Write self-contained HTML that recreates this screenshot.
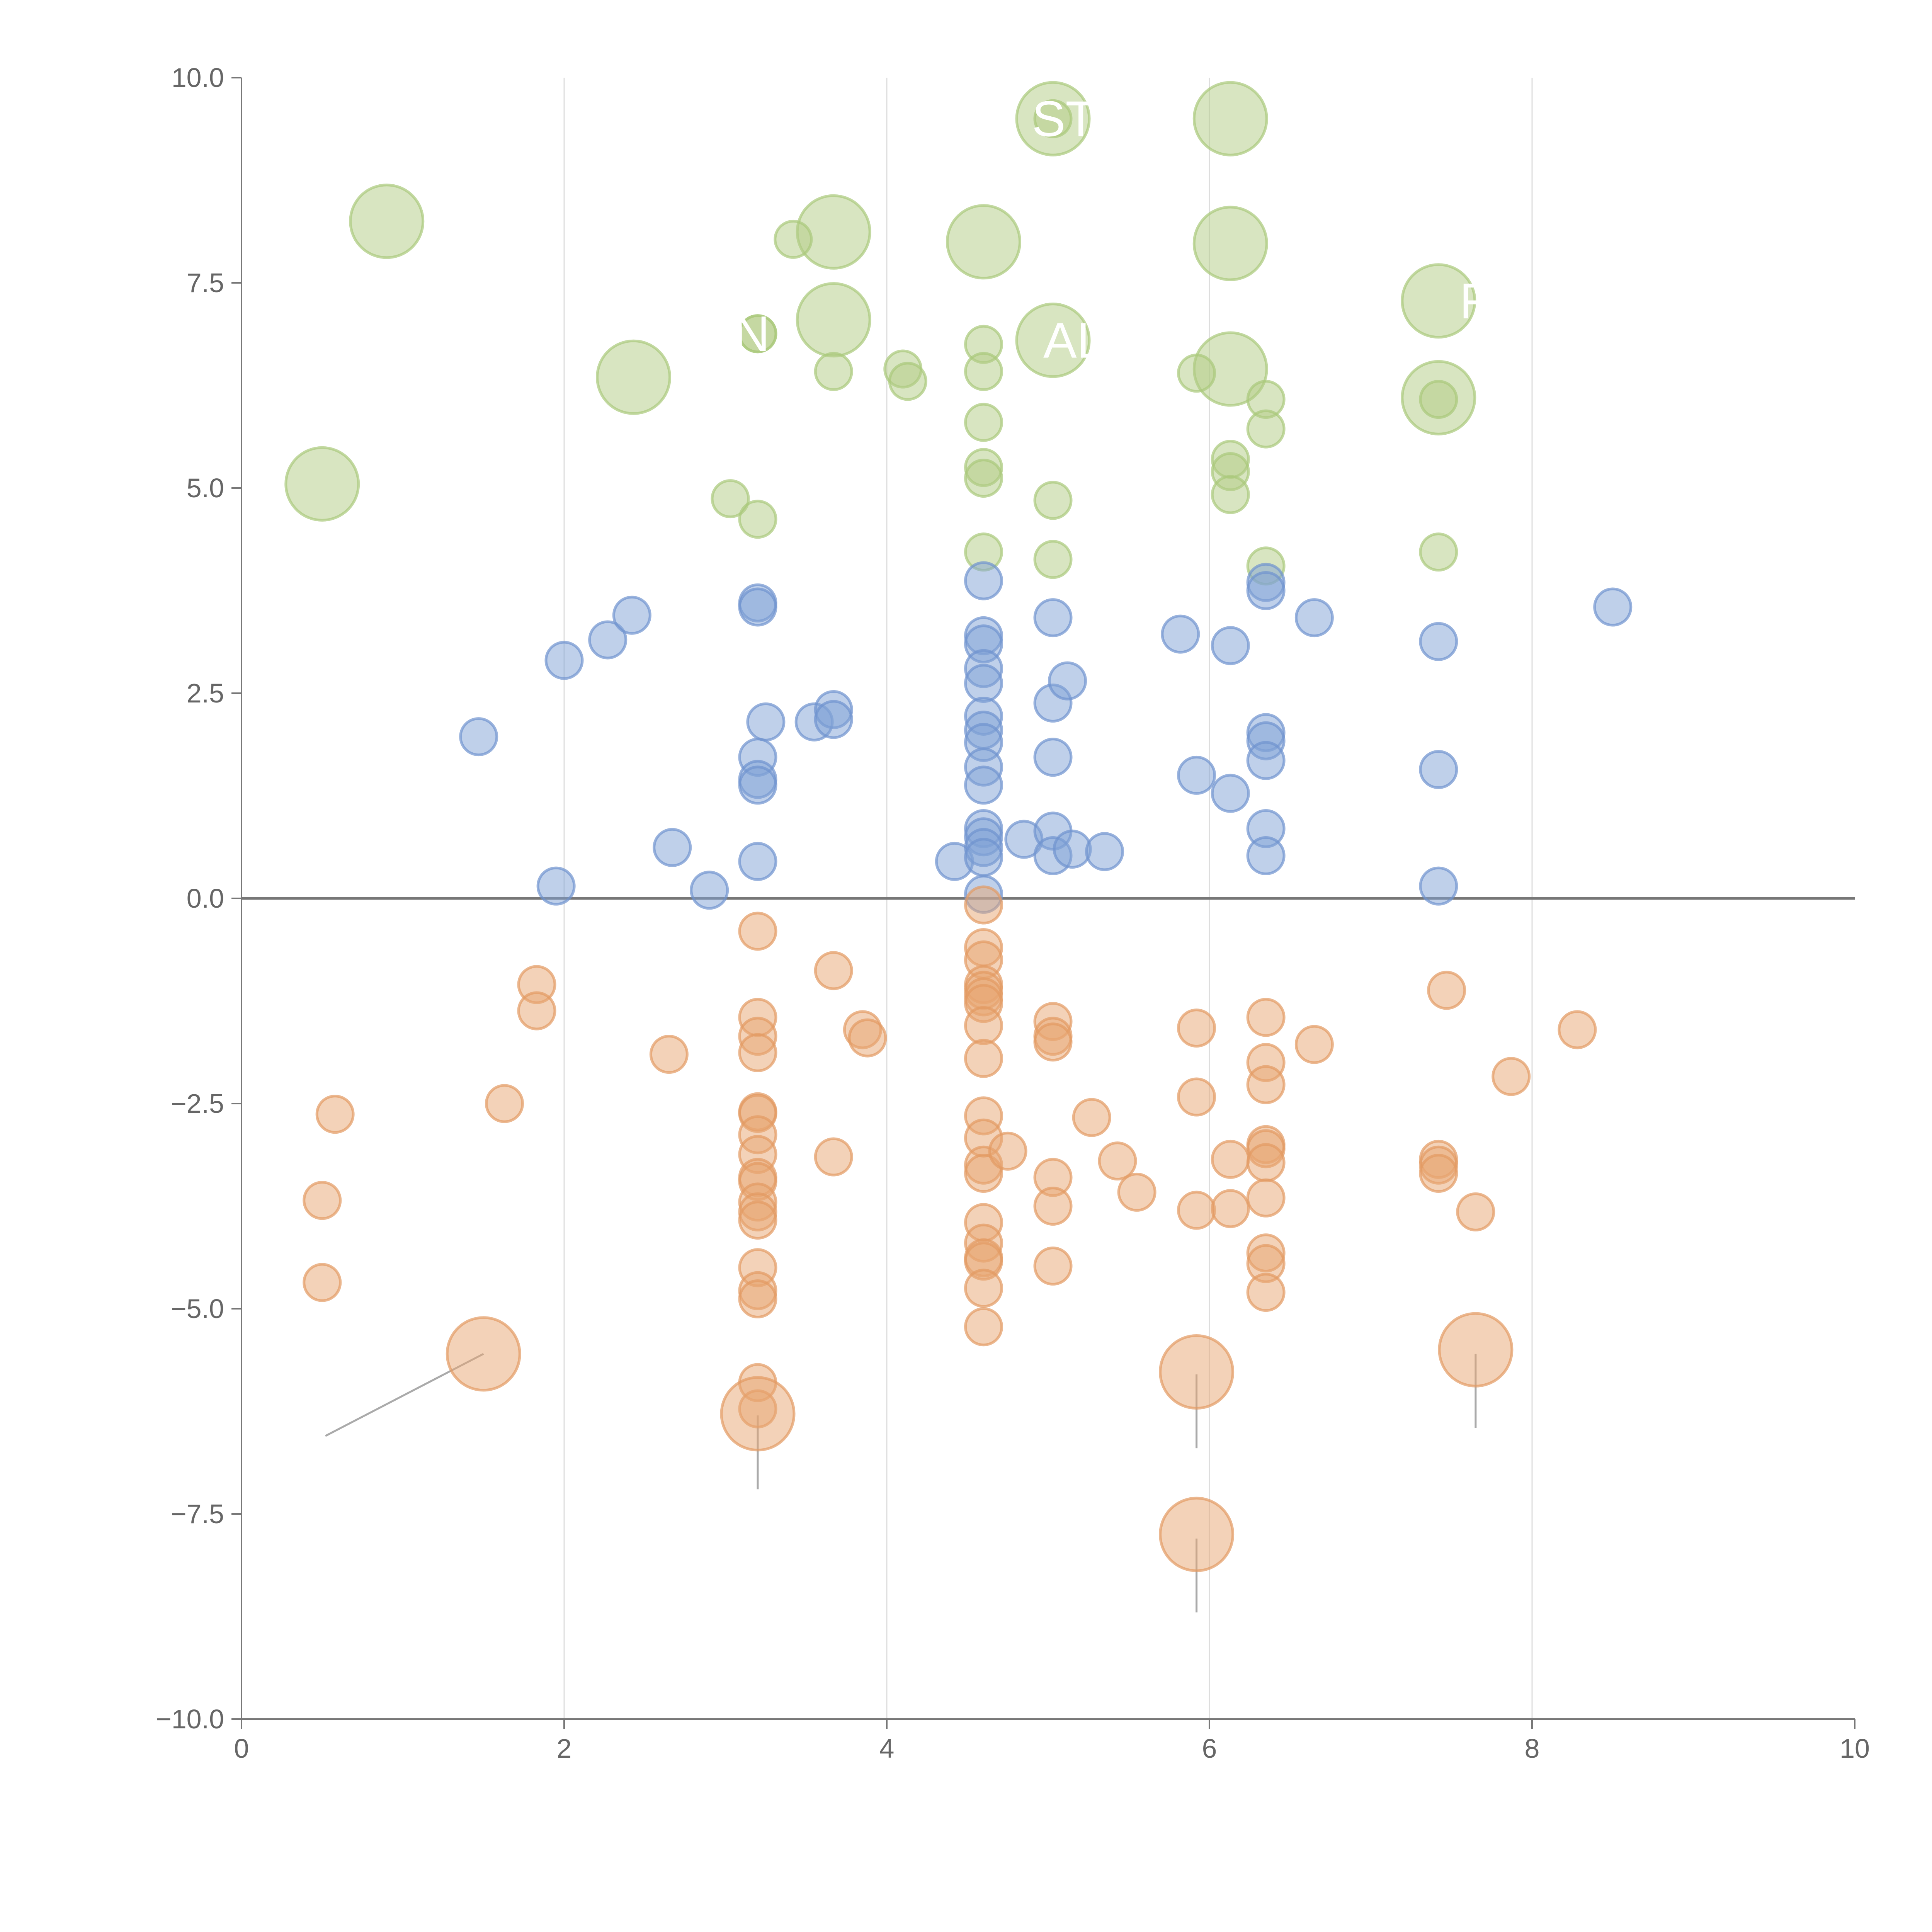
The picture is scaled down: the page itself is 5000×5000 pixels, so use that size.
<!DOCTYPE html>
<html><head><meta charset="utf-8"><style>
html,body{margin:0;padding:0;background:#fff}
svg{display:block}
text{font-family:"Liberation Sans",sans-serif}
</style></head><body>
<svg id="chart" width="5000" height="5000" viewBox="0 0 5000 5000" xmlns="http://www.w3.org/2000/svg">
<g id="grid"></g>
<g id="axes"></g>
<g id="leaders"></g>
<g id="marks"></g>
<g id="labels"></g>
</svg>
<script>
const xTicks=[0,2,4,6,8,10];
const yTicks=[10,7.5,5,2.5,0,-2.5,-5,-7.5,-10];
const yTickLabels=["10.0","7.5","5.0","2.5","0.0","\u22122.5","\u22125.0","\u22127.5","\u221210.0"];
const greenBigX=[0.9,0.5,2.43,3.67,3.67,4.6,5.03,5.03,6.13,6.13,6.13,7.42,7.42];
const greenBigY=[8.25,5.05,6.35,8.12,7.05,8.0,9.5,6.8,9.5,7.98,6.45,7.28,6.1];
const greenX=[3.42,3.2,3.67,4.1,4.13,4.6,4.6,4.6,4.6,4.6,4.6,3.03,3.2,5.03,5.03,5.92,6.35,6.35,6.13,6.13,6.13,6.35,7.42,7.42,5.03,3.2];
const greenY=[8.03,6.88,6.42,6.45,6.3,6.75,6.42,5.8,5.25,5.12,4.22,4.87,4.62,4.85,4.13,6.4,6.08,5.72,5.35,5.2,4.92,4.05,6.08,4.22,9.5,6.88];
const blueX=[1.47,1.95,2.0,2.27,2.42,2.67,2.9,3.2,3.2,3.25,3.2,3.2,3.2,3.2,3.55,3.67,3.67,4.42,4.6,4.6,4.6,4.6,4.6,4.6,4.6,4.6,4.6,4.6,4.6,4.6,4.6,4.6,4.6,4.85,5.03,5.03,5.03,5.03,5.03,5.15,5.12,5.35,5.82,5.92,6.13,6.13,6.35,6.35,6.35,6.35,6.35,6.35,6.35,6.65,7.42,7.42,7.42,8.5];
const blueY=[1.97,0.15,2.9,3.15,3.45,0.62,0.1,3.6,3.55,2.15,1.72,1.45,1.38,0.45,2.15,2.3,2.18,0.45,3.87,3.2,3.1,2.8,2.62,2.22,2.05,1.9,1.6,1.38,0.85,0.75,0.62,0.5,0.05,0.72,3.42,2.38,1.72,0.82,0.52,0.6,2.65,0.57,3.22,1.5,3.08,1.28,3.85,3.75,2.02,1.92,1.68,0.85,0.52,3.42,3.13,1.57,0.15,3.55];
const orangeX=[0.58,0.5,0.5,1.63,1.83,1.83,2.65,3.2,3.2,3.2,3.2,3.2,3.2,3.2,3.2,3.2,3.2,3.2,3.2,3.2,3.2,3.2,3.2,3.2,3.2,3.67,3.67,3.85,3.88,4.6,4.6,4.6,4.6,4.6,4.6,4.6,4.6,4.6,4.6,4.6,4.6,4.6,4.6,4.6,4.6,4.6,4.6,4.6,4.75,5.03,5.03,5.03,5.03,5.03,5.03,5.27,5.43,5.55,5.92,5.92,5.92,6.13,6.13,6.35,6.35,6.35,6.35,6.35,6.35,6.35,6.35,6.35,6.35,6.65,7.42,7.42,7.42,7.47,7.65,7.87,8.28];
const orangeY=[-2.63,-3.68,-4.68,-2.5,-1.05,-1.37,-1.9,-0.4,-1.45,-1.68,-1.88,-2.6,-2.62,-2.88,-3.12,-3.4,-3.45,-3.7,-3.82,-3.92,-4.5,-4.78,-4.88,-5.9,-6.22,-0.88,-3.15,-1.6,-1.7,-0.08,-0.6,-0.75,-1.05,-1.12,-1.2,-1.28,-1.55,-1.95,-2.65,-2.92,-3.25,-3.35,-3.95,-4.2,-4.38,-4.42,-4.75,-5.22,-3.08,-1.5,-1.68,-1.75,-3.4,-3.75,-4.48,-2.67,-3.2,-3.58,-1.58,-2.42,-3.8,-3.18,-3.78,-1.45,-2.0,-2.27,-3.0,-3.05,-3.22,-3.65,-4.32,-4.45,-4.8,-1.78,-3.18,-3.25,-3.35,-1.12,-3.82,-2.17,-1.6];
const orangeBigX=[1.5,3.2,5.92,5.92,7.65];
const orangeBigY=[-5.55,-6.28,-5.77,-7.75,-5.5];
const leaderX1=[1.5,3.2,5.92,5.92,7.65];
const leaderY1=[-5.55,-6.3,-5.8,-7.8,-5.55];
const leaderX2=[0.52,3.2,5.92,5.92,7.65];
const leaderY2=[-6.55,-7.2,-6.7,-8.7,-6.45];
const labelText=["ST","AL","N","F"];
const labelX=[4.9,4.97,3.05,7.55];
const labelY=[9.5,6.8,6.88,7.28];

const NS="http://www.w3.org/2000/svg";
const X0=625,X1=4800,Y0=4449,Y1=201;
const sx=v=>X0+(v-0)/(10-0)*(X1-X0);
const sy=v=>Y0-(v+10)/20*(Y0-Y1);
function mk(tag,attrs,parent){const e=document.createElementNS(NS,tag);for(const k in attrs)e.setAttribute(k,attrs[k]);parent.appendChild(e);return e;}
const grid=document.getElementById('grid'),axes=document.getElementById('axes'),marks=document.getElementById('marks'),leaders=document.getElementById('leaders'),labels=document.getElementById('labels');
[2,4,6,8].forEach(t=>{const l=mk('line',{x1:sx(t),x2:sx(t),y1:Y1,y2:Y0,stroke:'#dddddd','stroke-width':3},grid);

});
let a=mk('line',{x1:X0,x2:X0,y1:Y1,y2:Y0,stroke:'#777','stroke-width':4},axes);


a=mk('line',{x1:X0,x2:X1,y1:Y0,y2:Y0,stroke:'#777','stroke-width':4},axes);


a=mk('line',{x1:X0,x2:X1,y1:sy(0),y2:sy(0),stroke:'#777','stroke-width':7},axes);


xTicks.forEach(t=>{const tk=mk('line',{x1:sx(t),x2:sx(t),y1:Y0,y2:Y0+26,stroke:'#777','stroke-width':4},axes);


const tx=mk('text',{x:sx(t),y:Y0+100,'text-anchor':'middle','font-size':70,fill:'#666'},axes);tx.textContent=t;

});
yTicks.forEach((t,i)=>{const tk=mk('line',{x1:X0-26,x2:X0,y1:sy(t),y2:sy(t),stroke:'#777','stroke-width':4},axes);


const tx=mk('text',{x:X0-45,y:sy(t)+24,'text-anchor':'end','font-size':70,fill:'#666'},axes);tx.textContent=yTickLabels[i];

});
leaderX1.forEach((v,i)=>{const l=mk('line',{x1:sx(v),y1:sy(leaderY1[i]),x2:sx(leaderX2[i]),y2:sy(leaderY2[i]),stroke:'#aaa','stroke-width':5},leaders);

});
function series(xs,ys,r,fill,stroke,name){xs.forEach((v,i)=>{const c=mk('circle',{cx:sx(v),cy:sy(ys[i]),r:r,fill:fill,'fill-opacity':0.5,stroke:stroke,'stroke-opacity':0.7,'stroke-width':7},marks);

});}
series(greenBigX,greenBigY,94,'#b1cc84','#a9c97a','green-bubble-large');
series(greenX,greenY,47,'#b1cc84','#a9c97a','green-bubble');
series(blueX,blueY,47,'#7fa1d6','#6f93cf','blue-bubble');
series(orangeX,orangeY,47,'#e8a572','#e39a62','orange-bubble');
series(orangeBigX,orangeBigY,94,'#e8a572','#e39a62','orange-bubble-large');
labelText.forEach((s,i)=>{const t=mk('text',{x:sx(labelX[i]),y:sy(labelY[i])+45,'font-size':130,fill:'#fff'},labels);t.textContent=s;

});
</script>
</body></html>
